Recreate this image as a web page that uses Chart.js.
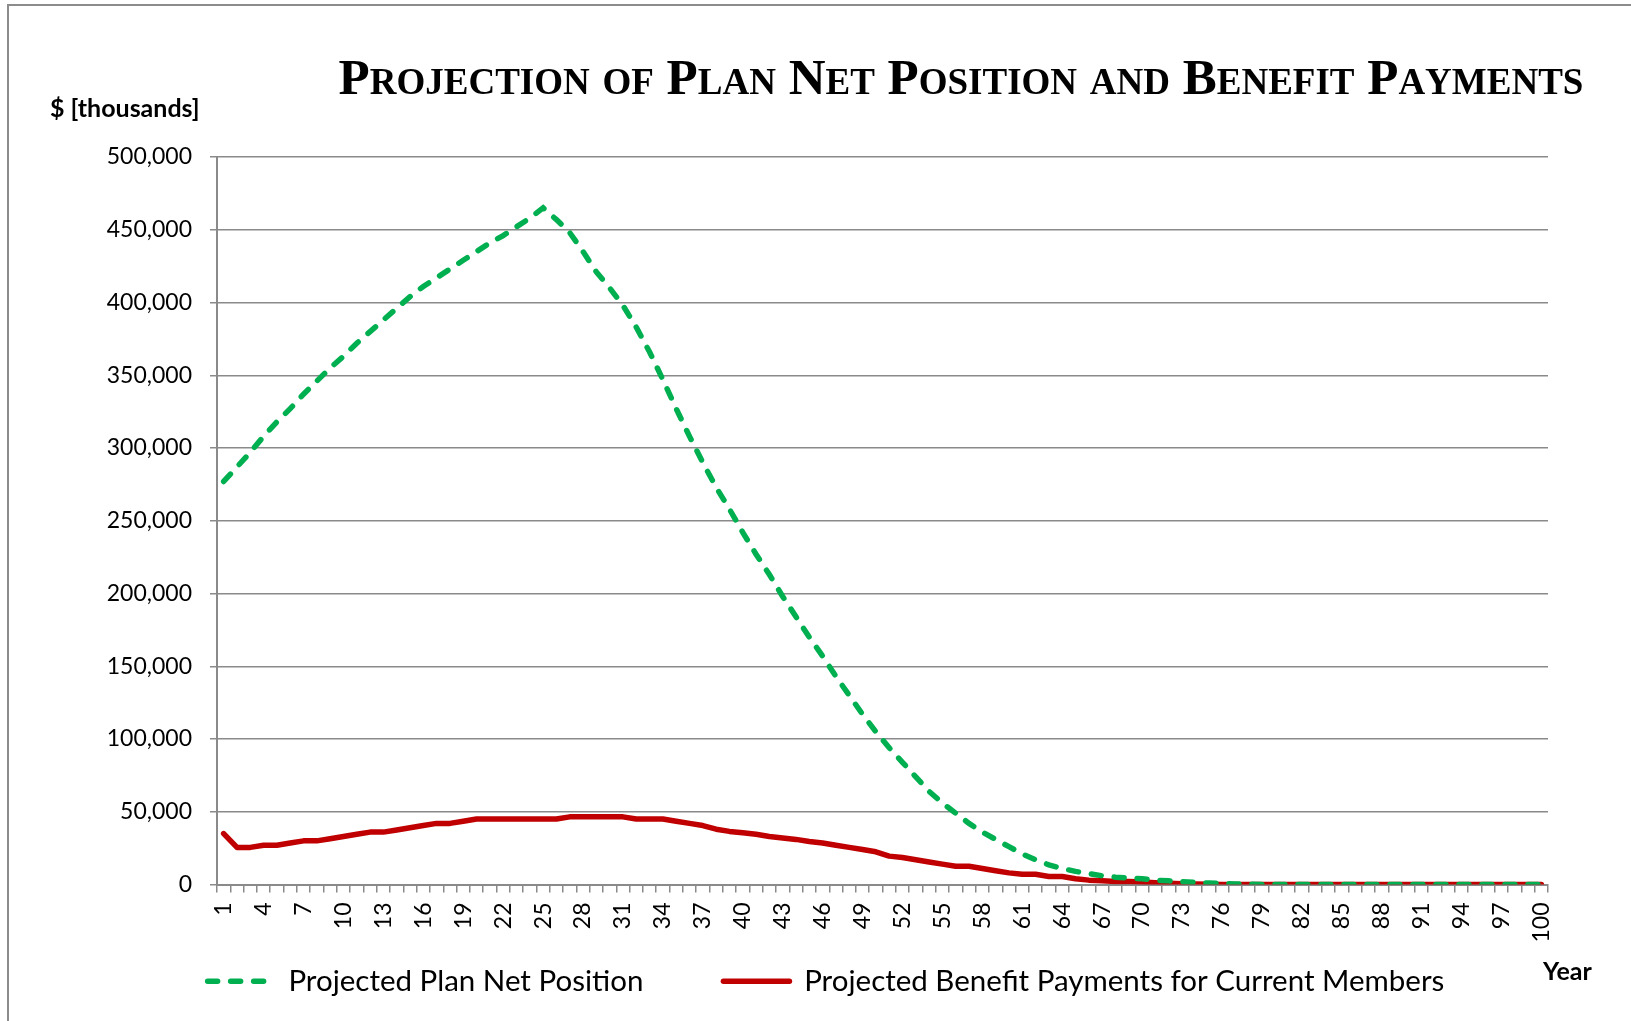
<!DOCTYPE html>
<html>
<head>
<meta charset="utf-8">
<script src="https://cdn.jsdelivr.net/npm/chart.js@4.4.1/dist/chart.umd.min.js"></script>
<style>
    html, body { margin: 0; padding: 0; background: #fff; overflow: hidden; }
    canvas { display: block; }
</style>
</head>
<body>
<canvas id="chart" width="1631" height="1021"></canvas>
<script>
// years 1..100
const years = [];
for (let i = 1; i <= 100; i++) years.push(String(i));

// $ thousands
const netPosition = [
    277000, 287000, 297000, 308000, 318000, 327000, 337000, 346000, 355000, 363000,
    372000, 380000, 388000, 396000, 404000, 411000, 417000, 423000, 429000, 435000,
    441000, 446000, 452000, 458000, 465000, 457000, 448000, 435000, 421000, 410000,
    398000, 383000, 366000, 347000, 327000, 308000, 290000, 273000, 258000, 242000,
    227000, 213000, 198000, 184000, 170000, 157000, 143000, 130000, 117000, 105000,
    94000, 84000, 74000, 64000, 56000, 49000, 42000, 36000, 31000, 26000,
    21000, 17000, 13500, 11000, 9000, 7500, 6000, 5000, 4500, 4000,
    3000, 2500, 2000, 1500, 1000, 700, 400, 200, 0, 0,
    0, 0, 0, 0, 0, 0, 0, 0, 0, 0,
    0, 0, 0, 0, 0, 0, 0, 0, 0, 0
];

const benefitPayments = [
    35000, 25500, 25500, 27000, 27000, 28500, 30000, 30000, 31500, 33000,
    34500, 36000, 36000, 37500, 39000, 40500, 42000, 42000, 43500, 45000,
    45000, 45000, 45000, 45000, 45000, 45000, 46500, 46500, 46500, 46500,
    46500, 45000, 45000, 45000, 43500, 42000, 40500, 38000, 36500, 35500,
    34500, 33000, 32000, 31000, 29500, 28500, 27000, 25500, 24000, 22500,
    19500, 18500, 17000, 15500, 14000, 12500, 12500, 11000, 9500, 8000,
    7000, 7000, 5500, 5500, 4000, 3000, 2500, 2000, 2000, 1800,
    1200, 800, 500, 300, 200, 0, 0, 0, 0, 0,
    0, 0, 0, 0, 0, 0, 0, 0, 0, 0,
    0, 0, 0, 0, 0, 0, 0, 0, 0, 0
];

const chartTitle = 'Projection of Plan Net Position and Benefit Payments';
const yUnit = '$ [thousands]';
const xUnit = 'Year';

const GRID = '#8a8a8a';

// title in small caps, units, and the frame
const decorations = {
    id: 'decorations',
    beforeDraw(chart) {
        const ctx = chart.ctx;
        ctx.save();
        ctx.strokeStyle = '#8c8c8c';
        ctx.lineWidth = 2;
        ctx.beginPath();
        ctx.moveTo(8, 1021);
        ctx.lineTo(8, 5);
        ctx.lineTo(1631, 5);
        ctx.stroke();
        ctx.restore();
    },
    afterDraw(chart) {
        const ctx = chart.ctx;
        ctx.save();
        ctx.fillStyle = '#000';
        ctx.textBaseline = 'alphabetic';

        // small caps by hand: capitals big, lower case letters as small capitals
        const big = 'bold 51px "Liberation Serif"';
        const small = 'bold 37px "Liberation Serif"';
        const runs = [...chartTitle].map(ch => {
            const low = ch !== ch.toUpperCase();
            return { t: ch.toUpperCase(), font: low ? small : big };
        });
        let total = 0;
        runs.forEach(r => { ctx.font = r.font; r.w = ctx.measureText(r.t).width; total += r.w; });
        let x = 961 - total / 2;
        ctx.textAlign = 'left';
        runs.forEach(r => { ctx.font = r.font; ctx.fillText(r.t, x, 94); x += r.w; });

        ctx.font = 'bold 25px Lato';
        ctx.fillText(yUnit, 50, 117);
        ctx.fillText(xUnit, 1543, 980);
        ctx.restore();
    }
};

new Chart(document.getElementById('chart'), {
    type: 'line',
    data: {
        labels: years,
        datasets: [
            {
                label: 'Projected Plan Net Position',
                data: netPosition,
                borderColor: '#00B050',
                backgroundColor: '#00B050',
                borderWidth: 5.5,
                borderDash: [10, 13],
                borderCapStyle: 'round',
                pointRadius: 0,
                tension: 0
            },
            {
                label: 'Projected Benefit Payments for Current Members',
                data: benefitPayments,
                borderColor: '#C00000',
                backgroundColor: '#C00000',
                borderWidth: 5.5,
                borderCapStyle: 'round',
                borderJoinStyle: 'round',
                pointRadius: 0,
                tension: 0
            }
        ]
    },
    options: {
        responsive: false,
        animation: false,
        devicePixelRatio: 1,
        layout: { padding: { left: 104, right: 83, top: 157, bottom: 15 } },
        plugins: {
            title: { display: false },
            tooltip: { enabled: false },
            legend: {
                position: 'bottom',
                align: 'center',
                labels: {
                    usePointStyle: true,
                    pointStyle: 'line',
                    pointStyleWidth: 66,
                    padding: 10,
                    color: '#000',
                    font: { family: 'Lato', size: 29.5 },
                    generateLabels(chart) {
                        const items = Chart.defaults.plugins.legend.labels.generateLabels(chart);
                        items.forEach((item, i) => {
                            const ds = chart.data.datasets[i];
                            item.lineDash = ds.borderDash || [];
                            item.lineCap = ds.borderCapStyle;
                            item.lineWidth = ds.borderWidth;
                        });
                        items[0].text += '\u2003\u2003\u2003\u2009';
                        return items;
                    }
                }
            }
        },
        scales: {
            x: {
                offset: true,
                afterFit(scale) { scale.height = 72; },
                grid: {
                    offset: true,
                    drawOnChartArea: false,
                    drawTicks: true,
                    tickLength: 8,
                    color: GRID,
                    lineWidth: 1.5
                },
                border: { display: true, color: GRID, width: 2 },
                ticks: {
                    autoSkip: false,
                    minRotation: 90,
                    maxRotation: 90,
                    padding: 10,
                    color: '#000',
                    font: { family: 'Lato', size: 23 },
                    callback(value, index) {
                        return index % 3 === 0 ? this.getLabelForValue(value) : '';
                    }
                }
            },
            y: {
                min: 0,
                max: 500000,
                afterFit(scale) { scale.width = 113; },
                grid: {
                    color: GRID,
                    lineWidth: 1.5,
                    tickLength: 7
                },
                border: { display: true, color: GRID, width: 2 },
                ticks: {
                    stepSize: 50000,
                    padding: 18,
                    color: '#000',
                    font: { family: 'Lato', size: 23 },
                    callback: v => v.toLocaleString('en-US')
                }
            }
        }
    },
    plugins: [decorations]
});
</script>
</body>
</html>
